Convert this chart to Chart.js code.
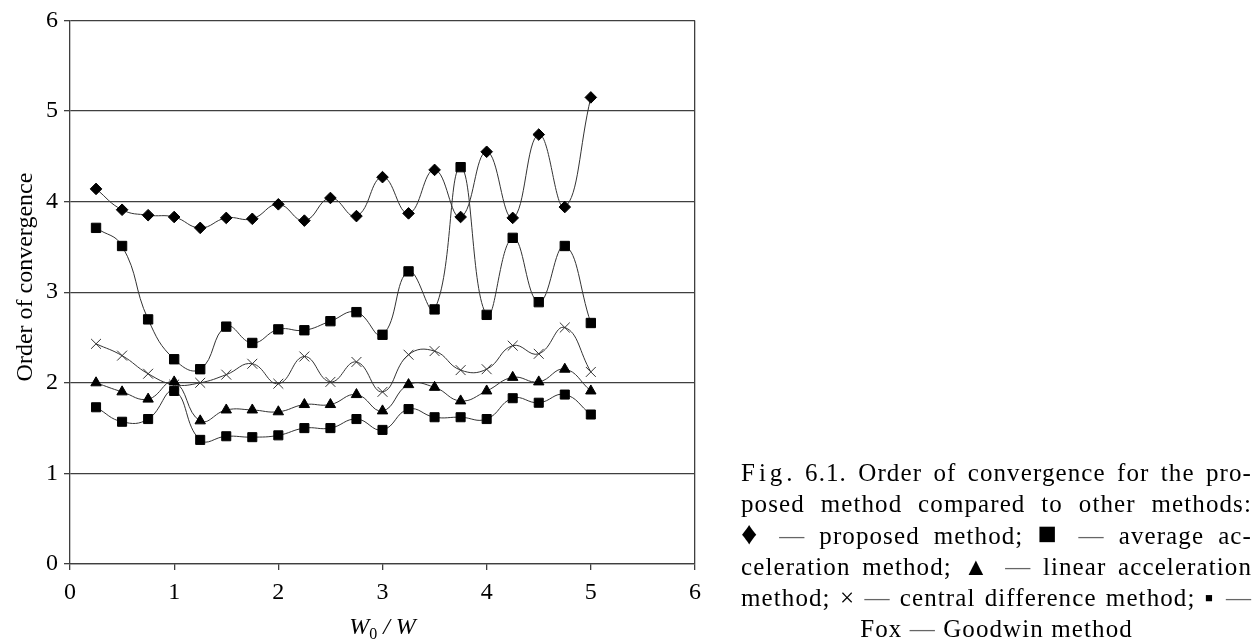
<!DOCTYPE html>
<html>
<head>
<meta charset="utf-8">
<title>Order of convergence</title>
<script src="https://cdn.jsdelivr.net/npm/chart.js@4.4.0/dist/chart.umd.min.js"></script>
<style>
  html, body { margin: 0; padding: 0; background: #fff; }
  #wrap { position: absolute; left: 0; top: 0; width: 1254px; height: 642px; }
  #chart { position: absolute; left: 0; top: 0; }
  #caption {
    position: absolute; left: 741px; top: 457px; width: 511px;
    font-family: "Liberation Serif", "Times New Roman", serif;
    font-size: 25px; line-height: 31.3px; color: #000; letter-spacing: 1.1px;
  }
  #caption .ln { text-align: justify; text-align-last: justify; }
  #caption .last { text-align: center; }
  #caption .sp { letter-spacing: 4px; }
  #caption .dash { color: #666; }
  #caption .big { font-size: 32px; line-height: 20px; }
</style>
</head>
<body>
<div id="wrap">
  <canvas id="chart" width="1254" height="642"></canvas>
  <div id="caption">
    <div class="ln"><span class="sp">Fig</span>. 6.1. Order of convergence for the pro-</div>
    <div class="ln">posed method compared to other methods:</div>
    <div class="ln"><span class="big">&#9830;</span> <span class="dash">&mdash;</span> proposed method; <span class="big">&#9632;</span> <span class="dash">&mdash;</span> average ac-</div>
    <div class="ln">celeration method; &#9650; <span class="dash">&mdash;</span> linear acceleration</div>
    <div class="ln">method; &times; <span class="dash">&mdash;</span> central difference method; &#9642; <span class="dash">&mdash;</span></div>
    <div class="last">Fox <span class="dash">&mdash;</span> Goodwin method</div>
  </div>
</div>
<script>
// W0 / W sample points
const xValues = [0.25, 0.5, 0.75, 1, 1.25, 1.5, 1.75, 2, 2.25, 2.5,
                 2.75, 3, 3.25, 3.5, 3.75, 4, 4.25, 4.5, 4.75, 5];

// Order of convergence for each method
const proposed     = [4.14, 3.91, 3.85, 3.83, 3.71, 3.82, 3.81, 3.97, 3.79, 4.04,
                      3.84, 4.27, 3.87, 4.35, 3.83, 4.55, 3.82, 4.74, 3.94, 5.15];
const averageAccel = [3.71, 3.51, 2.70, 2.26, 2.15, 2.62, 2.44, 2.59, 2.58, 2.68,
                      2.78, 2.53, 3.23, 2.81, 4.38, 2.75, 3.60, 2.89, 3.51, 2.66];
const linearAccel  = [2.00, 1.90, 1.82, 2.01, 1.58, 1.70, 1.70, 1.68, 1.76, 1.76,
                      1.87, 1.69, 1.98, 1.95, 1.80, 1.91, 2.06, 2.01, 2.15, 1.91];
const centralDiff  = [2.43, 2.30, 2.10, 1.98, 2.00, 2.09, 2.21, 1.99, 2.29, 2.01,
                      2.23, 1.90, 2.31, 2.35, 2.14, 2.15, 2.41, 2.32, 2.61, 2.12];
const foxGoodwin   = [1.73, 1.57, 1.60, 1.91, 1.37, 1.41, 1.40, 1.42, 1.50, 1.50,
                      1.60, 1.48, 1.71, 1.62, 1.62, 1.60, 1.83, 1.78, 1.87, 1.65];

// Axis ranges and titles
const axisMin = 0;
const axisMax = 6;
const yTitle = 'Order of convergence';

const serif = '"Liberation Serif", "Times New Roman", serif';
const lineColor = '#333';
const gridColor = '#3f3f3f';

function points(values) {
  return xValues.map((x, i) => ({ x: x, y: values[i] }));
}

function series(label, values, style, radius, extra) {
  return Object.assign({
    label: label,
    data: points(values),
    borderColor: lineColor,
    borderWidth: 1,
    backgroundColor: '#000',
    pointBackgroundColor: '#000',
    pointBorderColor: '#000',
    pointBorderWidth: 1,
    pointStyle: style,
    pointRadius: radius,
    tension: 0.45,
    fill: false
  }, extra || {});
}

// Axis titles: rotated y title and x title with a subscript
const axisTitles = {
  id: 'axisTitles',
  afterDraw(chart) {
    const ctx = chart.ctx;
    ctx.save();
    ctx.fillStyle = '#000';
    ctx.textAlign = 'center';
    ctx.textBaseline = 'middle';
    ctx.font = '24px ' + serif;
    ctx.translate(26, 277);
    ctx.rotate(-Math.PI / 2);
    ctx.fillText(yTitle, 0, 0);
    ctx.restore();

    // W0 / W
    ctx.save();
    ctx.fillStyle = '#000';
    ctx.textBaseline = 'alphabetic';
    const italic = 'italic 24px ' + serif;
    const sub = '16px ' + serif;
    const base = 634;
    ctx.font = italic;
    const wW = ctx.measureText('W').width;
    const restW = ctx.measureText(' / W').width;
    ctx.font = sub;
    const zW = ctx.measureText('0').width;
    const total = wW + zW + restW;
    const cx = (chart.chartArea.left + chart.chartArea.right) / 2;
    let x = cx - total / 2;
    ctx.font = italic;
    ctx.fillText('W', x, base);
    x += wW;
    ctx.font = sub;
    ctx.fillText('0', x, base + 5);
    x += zW;
    ctx.font = italic;
    ctx.fillText(' / W', x, base);
    ctx.restore();
  }
};

new Chart(document.getElementById('chart'), {
  type: 'line',
  data: {
    datasets: [
      series('Fox — Goodwin method', foxGoodwin, 'rect', 6.4),
      series('linear acceleration method', linearAccel, 'triangle', 6),
      series('central difference method', centralDiff, 'crossRot', 7, { pointBorderColor: '#333', pointBorderWidth: 1 }),
      series('average acceleration method', averageAccel, 'rect', 6.6),
      series('proposed method', proposed, 'rectRot', 5.8)
    ]
  },
  options: {
    responsive: false,
    animation: false,
    layout: { padding: { top: 17, right: 559, left: 0, bottom: 0 } },
    plugins: {
      legend: { display: false },
      tooltip: { enabled: false }
    },
    scales: {
      x: {
        type: 'linear',
        min: axisMin,
        max: axisMax,
        ticks: {
          stepSize: 1,
          color: '#000',
          font: { family: serif, size: 24 },
          padding: 8,
          maxRotation: 0
        },
        grid: {
          color: (c) => (c.tick && c.tick.value === axisMax) ? gridColor : 'rgba(0,0,0,0)',
          tickColor: gridColor,
          tickLength: 6,
          lineWidth: 1.3
        },
        border: { color: gridColor, width: 1.3 },
        afterFit(scale) { scale.height = 78; }
      },
      y: {
        min: axisMin,
        max: axisMax,
        ticks: {
          stepSize: 1,
          color: '#000',
          font: { family: serif, size: 24 },
          padding: 6
        },
        grid: {
          color: gridColor,
          tickColor: gridColor,
          tickLength: 6,
          lineWidth: 1.3
        },
        border: { color: gridColor, width: 1.3 },
        afterFit(scale) { scale.width = 70; }
      }
    }
  },
  plugins: [axisTitles]
});
</script>
</body>
</html>
